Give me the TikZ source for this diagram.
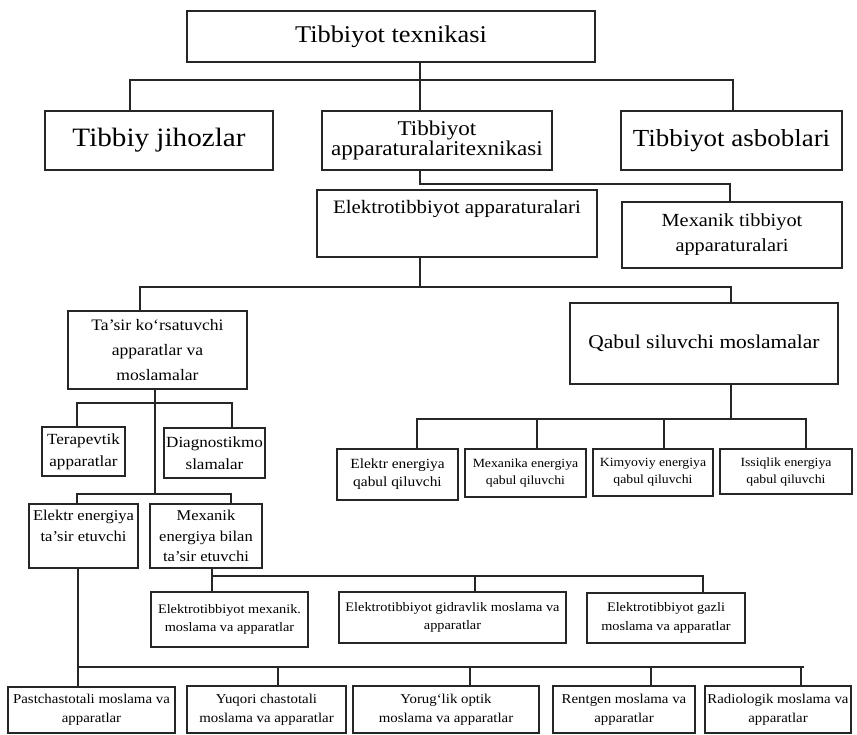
\documentclass[tikz,border=0pt]{standalone}
\usepackage{fontspec}
\setmainfont{Liberation Serif}[FakeStretch=1.1]
\tikzset{
  box/.style={draw=black!85, line width=1.05pt, inner sep=0pt, outer sep=0pt, align=center, text=black},
  conn/.style={draw=black!85, line width=1.05pt},
}
\newcommand\mybox[8]{%
  \pgfmathsetmacro\bw{#4-#2}\pgfmathsetmacro\bh{#5-#3}%
  \pgfmathsetmacro\bcx{(#2+#4)/2}\pgfmathsetmacro\bcy{(#3+#5)/2}%
  \node[box, minimum width=\bw pt, minimum height=\bh pt, font={\fontsize{#6}{#7}\selectfont}] (#1) at (\bcx,\bcy) {#8};}
\begin{document}
\begin{tikzpicture}[x=1pt,y=-1pt]
\fill[white] (0,0) rectangle (857,735);
\useasboundingbox (0,0) rectangle (857,735);
% level 0-1
\mybox{T0}{187}{11}{595}{62}{24}{28}{Tibbiyot texnikasi}
\mybox{J}{45}{111}{273}{170}{26.5}{28}{Tibbiy jihozlar}
\mybox{A}{322}{111}{552}{170}{21}{20}{Tibbiyot\\apparaturalaritexnikasi}
\mybox{S}{621}{111}{842}{170}{24.5}{28}{Tibbiyot asboblari}
% level 2
\mybox{E}{317}{190}{597}{257}{19}{17}{Elektrotibbiyot apparaturalari\\\mbox{}\\\mbox{}}
\mybox{M}{622}{202}{842}{268}{18.5}{25}{Mexanik tibbiyot\\apparaturalari}
% level 3
\mybox{T}{68}{311}{247}{389}{16}{25}{Ta’sir ko‘rsatuvchi\\apparatlar va\\moslamalar}
\mybox{Q}{570}{303}{838}{384}{19.5}{22}{Qabul siluvchi moslamalar}
% Ta'sir children
\mybox{Ter}{42}{427}{125}{476}{15.5}{22}{Terapevtik\\apparatlar}
\mybox{Dia}{164}{428}{265}{478}{15.5}{22}{Diagnostikmo\\slamalar}
\mybox{EL}{29}{504}{138}{568}{15}{21}{Elektr energiya\\ta’sir etuvchi\\\mbox{}}
\mybox{ME}{150}{504}{262}{568}{15}{20.5}{Mexanik\\energiya bilan\\ta’sir etuvchi}
% Qabul children
\mybox{EQ}{337}{449}{458}{500}{14}{18}{Elektr energiya\\qabul qiluvchi}
\mybox{MQ}{465}{449}{586}{497}{12.5}{17}{Mexanika energiya\\qabul qiluvchi}
\mybox{KQ}{593}{449}{713}{496}{12.5}{17}{Kimyoviy energiya\\qabul qiluvchi}
\mybox{IQ}{720}{449}{852}{494}{12.5}{17}{Issiqlik energiya\\qabul qiluvchi}
% Elektrotibbiyot row
\mybox{EM}{151}{592}{308}{647}{13}{18.5}{Elektrotibbiyot mexanik.\\moslama va apparatlar}
\mybox{EG}{339}{592}{566}{643}{13}{18.5}{Elektrotibbiyot gidravlik moslama va\\apparatlar}
\mybox{EZ}{587}{593}{745}{643}{13}{18.5}{Elektrotibbiyot gazli\\moslama va apparatlar}
% bottom row
\mybox{P}{8}{687}{175}{733}{13.5}{19}{Pastchastotali moslama va\\apparatlar}
\mybox{YQ}{187}{686}{346}{733}{13.5}{19}{Yuqori chastotali\\moslama va apparatlar}
\mybox{YO}{353}{686}{539}{733}{13.5}{19}{Yorug‘lik optik\\moslama va apparatlar}
\mybox{R}{553}{686}{695}{733}{13.5}{19}{Rentgen moslama va\\apparatlar}
\mybox{RA}{705}{686}{851}{733}{13.5}{19}{Radiologik moslama va\\apparatlar}
% connectors level 1
\coordinate (b1l) at (130,80);
\coordinate (b1c) at (420,80);
\coordinate (b1r) at (733,80);
\draw[conn] (b1c |- T0.south) -- (b1c |- A.north);
\draw[conn] (b1l |- J.north) -- (b1l) -- (b1r) -- (b1r |- S.north);
% A to M
\coordinate (b2l) at (420,184);
\coordinate (b2r) at (730,184);
\draw[conn] (b2l |- A.south) -- (b2l) -- (b2r) -- (b2r |- M.north);
% E to T and Q
\coordinate (b3c) at (420,287);
\coordinate (b3l) at (140,287);
\coordinate (b3r) at (731,287);
\draw[conn] (b3c |- E.south) -- (b3c);
\draw[conn] (b3l |- T.north) -- (b3l) -- (b3r) -- (b3r |- Q.north);
% T children
\coordinate (b4) at (155,494);
\draw[conn] (b4 |- T.south) -- (b4);
\coordinate (b4a) at (77,403);
\coordinate (b4b) at (232,403);
\draw[conn] (b4a |- Ter.north) -- (b4a) -- (b4b) -- (b4b |- Dia.north);
\coordinate (b5a) at (77,494);
\coordinate (b5b) at (231,494);
\draw[conn] (b5a |- EL.north) -- (b5a) -- (b5b) -- (b5b |- ME.north);
% ME children
\coordinate (b6a) at (212,576);
\coordinate (b6b) at (475,576);
\coordinate (b6c) at (703,576);
\draw[conn] (b6a |- ME.south) -- (b6a |- EM.north);
\draw[conn] (b6a) -- (b6c) -- (b6c |- EZ.north);
\draw[conn] (b6b) -- (b6b |- EG.north);
% EL children (bottom row)
\coordinate (b7a) at (78,667);
\coordinate (b7b) at (278,667);
\coordinate (b7c) at (470,667);
\coordinate (b7d) at (651,667);
\coordinate (b7e) at (801,667);
\coordinate (b7end) at (804,667);
\draw[conn] (b7a |- EL.south) -- (b7a |- P.north);
\draw[conn] (b7a) -- (b7end);
\draw[conn] (b7b) -- (b7b |- YQ.north);
\draw[conn] (b7c) -- (b7c |- YO.north);
\draw[conn] (b7d) -- (b7d |- R.north);
\draw[conn] (b7e) -- (b7e |- RA.north);
% Q children
\coordinate (b8) at (731,419);
\draw[conn] (b8 |- Q.south) -- (b8);
\coordinate (b8a) at (417,419);
\coordinate (b8b) at (537,419);
\coordinate (b8c) at (664,419);
\coordinate (b8d) at (806,419);
\draw[conn] (b8a |- EQ.north) -- (b8a) -- (b8d) -- (b8d |- IQ.north);
\draw[conn] (b8b) -- (b8b |- MQ.north);
\draw[conn] (b8c) -- (b8c |- KQ.north);
\end{tikzpicture}
\end{document}
